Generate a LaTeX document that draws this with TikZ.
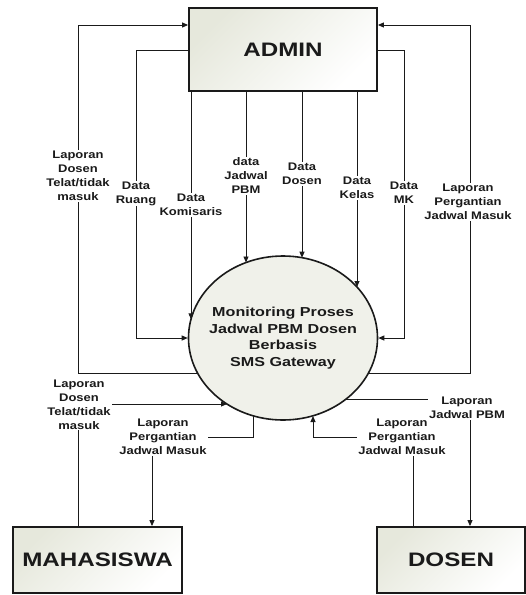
\documentclass[tikz,border=0pt]{standalone}
\usepackage{fontspec}
\usetikzlibrary{arrows.meta,shapes.geometric,calc}
\newfontfamily\lblfont{Liberation Sans}[FakeStretch=1.18,BoldFeatures={FakeStretch=1.18}]
\newfontfamily\bigfont{Liberation Sans}[FakeStretch=1.24,BoldFeatures={FakeStretch=1.24}]
\definecolor{boxfill}{HTML}{E6E8DC}
\definecolor{circfill}{HTML}{F0F1EA}
\definecolor{ink}{HTML}{1A1A1A}
\begin{document}
\begin{tikzpicture}[x=1pt,y=-1pt,
  entity/.style={draw=ink,line width=1.8pt,rectangle,inner sep=0pt,
    top color=boxfill,bottom color=white,shading angle=45,
    font=\bigfont\bfseries\fontsize{19.5}{22}\selectfont,text=ink},
  proc/.style={draw=ink,line width=1.6pt,ellipse,inner sep=0pt,fill=circfill,
    minimum width=189,minimum height=164},
  proctext/.style={align=center,text=ink,inner sep=0pt,
    font=\bigfont\bfseries\fontsize{13}{16.6}\selectfont},
  flow/.style={draw=ink,line width=0.9pt},
  arr/.style={flow,-{Triangle[length=6pt,width=5pt]}},
  lbl/.style={fill=white,inner sep=1pt,align=center,text=ink,
    font=\lblfont\bfseries\fontsize{11}{14}\selectfont}]
\useasboundingbox (0,0) rectangle (526,595);

% entities and process
\node[entity,minimum width=188,minimum height=83] (admin) at (283,49.5) {ADMIN};
\node[entity,minimum width=169,minimum height=66] (mhs) at (97.5,560) {MAHASISWA};
\node[entity,minimum width=148,minimum height=66] (dosen) at (451,560) {DOSEN};
\node[proc] (proc) at (283,338) {};
\node[proctext] (proctxt) at (proc.center) {Monitoring Proses\\Jadwal PBM Dosen\\Berbasis\\SMS Gateway};

% named bend points
\coordinate (p1s) at ($(proc.center)+(-85.5,35)$);
\coordinate (p8s) at ($(proc.center)+(85.5,35)$);
\coordinate (pkom) at ($(proc.center)+(-92,-18.7)$);
\coordinate (pjad) at ($(proc.center)+(-37,-75.5)$);
\coordinate (pdos) at ($(proc.center)+(19,-80.3)$);
\coordinate (pkel) at ($(proc.center)+(74,-51)$);
\coordinate (pbl) at ($(proc.center)+(-56,66)$);
\coordinate (pjp) at ($(proc.center)+(63,61)$);
\coordinate (pbl2) at ($(proc.center)+(-30,78)$);
\coordinate (pbr2) at ($(proc.center)+(30,78)$);

% top connectors
\draw[arr] (p1s) -- (78,373) -- (78,25) -- (admin.west |- 0,25);
\draw[arr] (admin.west |- 0,50) -- (136,50) -- (136,338) -- (proc.west);
\draw[arr] (admin.south west -| pkom) -- (pkom);
\draw[arr] (admin.south -| pjad) -- (pjad);
\draw[arr] (admin.south -| pdos) -- (pdos);
\draw[arr] (admin.south -| pkel) -- (pkel);
\draw[arr] (admin.east |- 0,50) -- (404,50) -- (404,338) -- (proc.east);
\draw[arr] (p8s) -- (470,373) -- (470,25) -- (admin.east |- 0,25);

% bottom connectors
\draw[arr] (mhs.north -| 78,0) -- (78,404) -- (pbl);
\draw[arr] (pbl2) -- (pbl2 |- 0,437) -- (152,437) -- (mhs.north -| 152,0);
\draw[arr] (dosen.north -| 413,0) -- (413,437) -- (pbr2 |- 0,437) -- (pbr2);
\draw[arr] (pjp) -- (470,399) -- (dosen.north -| 470,0);

% labels
\node[lbl] (l1) at (78,176) {Laporan\\Dosen\\Telat/tidak\\masuk};
\node[lbl] (l2) at (136,193.5) {Data\\Ruang};
\node[lbl] (l3) at (191,205) {Data\\Komisaris};
\node[lbl] (l4) at (246,176) {data\\Jadwal\\PBM};
\node[lbl] (l5) at (302,174) {Data\\Dosen};
\node[lbl] (l6) at (357,188) {Data\\Kelas};
\node[lbl] (l7) at (404,193) {Data\\MK};
\node[lbl] (l8) at (468,202) {Laporan\\Pergantian\\Jadwal Masuk};
\node[lbl] (l9) at (79,404.5) {Laporan\\Dosen\\Telat/tidak\\masuk};
\node[lbl] (l10) at (163,437) {Laporan\\Pergantian\\Jadwal Masuk};
\node[lbl] (l11) at (402,437) {Laporan\\Pergantian\\Jadwal Masuk};
\node[lbl] (l12) at (467,408) {Laporan\\Jadwal PBM};
\end{tikzpicture}
\end{document}
